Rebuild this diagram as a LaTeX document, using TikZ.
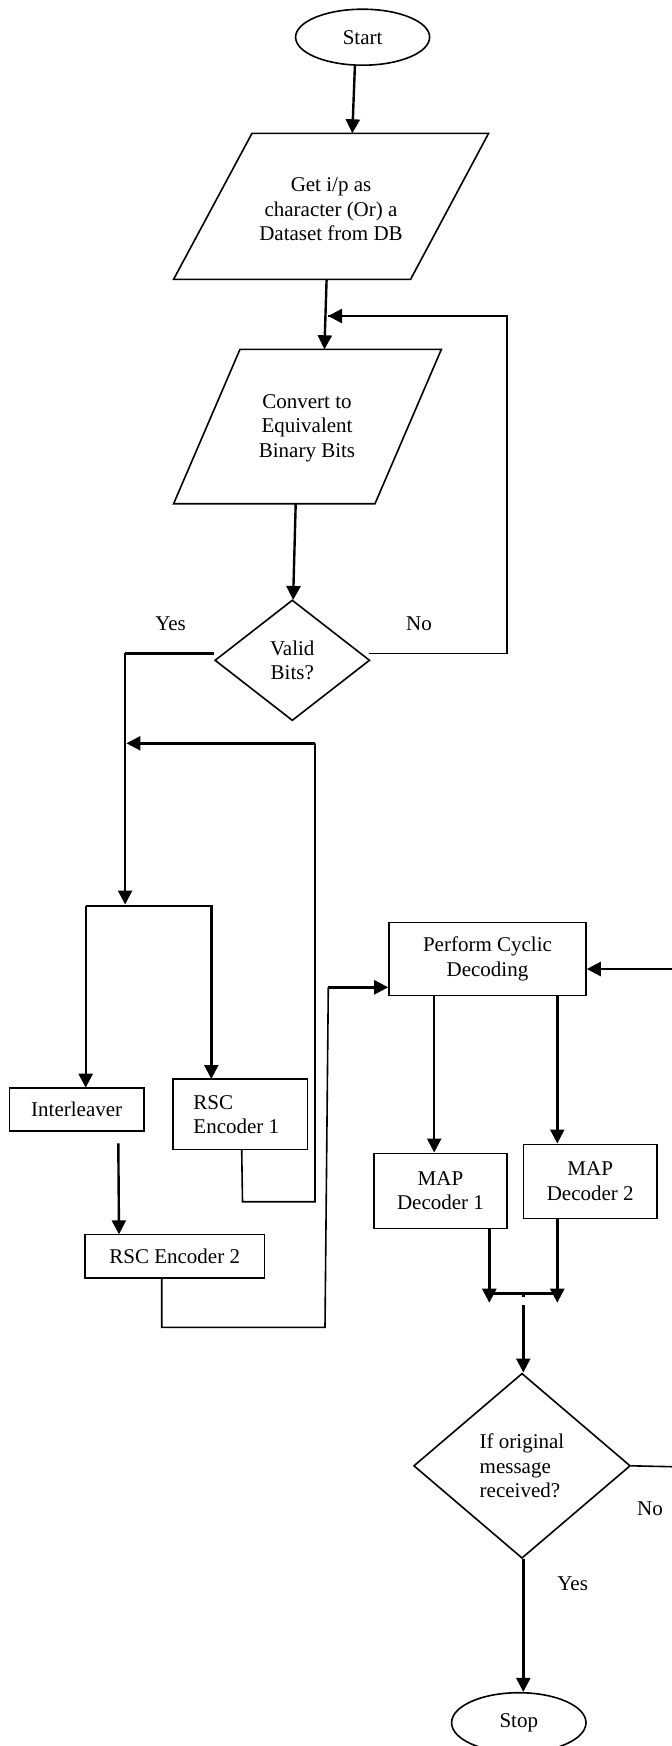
\documentclass[tikz,border=0pt]{standalone}
\usepackage{fontspec}
\setmainfont{Liberation Serif}
\usetikzlibrary{arrows.meta,shapes.geometric}
\begin{document}
\begin{tikzpicture}[x=1pt,y=-1pt,
  every node/.style={font=\fontsize{21}{24.5}\selectfont, inner sep=0pt, align=center},
  term/.style={ellipse, draw, line width=1.6pt},
  box/.style={rectangle, draw, line width=1.6pt},
  dec/.style={diamond, draw, line width=1.6pt},
  outline/.style={line width=1.6pt, line join=miter},
  arr/.style={line width=2.4pt, -{Triangle[length=14pt,width=14pt]}},
  thinln/.style={line width=1.6pt},
  thickln/.style={line width=2.4pt},
  lbl/.style={font=\fontsize{21}{24.5}\selectfont}]
\useasboundingbox (0,0) rectangle (672,1746);

% ---------- Start ----------
\node[term, minimum width=134pt, minimum height=56pt] (start) at (362.6,37.2) {Start};

% ---------- Parallelogram 1 ----------
\coordinate (p1tl) at (252,133.3);
\coordinate (p1tr) at (488.6,133.3);
\coordinate (p1br) at (410.6,279.3);
\coordinate (p1bl) at (173.6,279.3);
\draw[outline] (p1tl) -- (p1tr) -- (p1br) -- (p1bl) -- cycle;
\node (par1) at (331,209.5) {Get i/p as\\character (Or) a\\Dataset from DB};
\coordinate (p1in) at (352.3,133.3);
\coordinate (p1out) at (326.6,279.3);

% ---------- Parallelogram 2 ----------
\coordinate (p2tl) at (240,349.3);
\coordinate (p2tr) at (441.4,349.3);
\coordinate (p2br) at (375,503.7);
\coordinate (p2bl) at (173.6,503.7);
\draw[outline] (p2tl) -- (p2tr) -- (p2br) -- (p2bl) -- cycle;
\node (par2) at (307,428) {Convert to\\Equivalent\\Binary Bits};
\coordinate (p2in) at (324.4,349.3);
\coordinate (p2out) at (295.7,503.7);

% ---------- Decision 1 ----------
\node[dec, minimum width=155pt, minimum height=120.7pt] (dia1) at (292.3,660.3) {Valid\\Bits?};
\coordinate (d1in) at (293.1,600);
\node[lbl] (yes1) at (170.6,623.3) {Yes};
\node[lbl] (no1) at (419,623.3) {No};

% ---------- Encoders ----------
\node[box, minimum width=134.6pt, minimum height=43pt] (inter) at (76.7,1109.2) {Interleaver};
\node[box, minimum width=134.5pt, minimum height=70.3pt] (enc1) at (240.3,1114.2) {};
\node[align=left] (enc1t) at (236.3,1114.8) {RSC\\Encoder 1};
\node[box, minimum width=179.3pt, minimum height=43.4pt] (enc2) at (174.7,1256) {RSC Encoder 2};

% ---------- Decoding ----------
\node[box, minimum width=197pt, minimum height=73.2pt] (pcd) at (487.5,958.9) {Perform Cyclic\\Decoding};
\node[box, minimum width=133pt, minimum height=75pt] (map1) at (440.5,1190.8) {MAP\\Decoder 1};
\node[box, minimum width=133.7pt, minimum height=74.2pt] (map2) at (590.2,1181.4) {MAP\\Decoder 2};

% ---------- Decision 2 ----------
\node[dec, minimum width=216.7pt, minimum height=185pt, align=left] (dia2) at (522,1465.8) {If original\\message\\received?};
\node[lbl] (no2) at (650,1508.3) {No};
\node[lbl] (yes2) at (572.7,1583.3) {Yes};

% ---------- Stop ----------
\node[term, minimum width=134.4pt, minimum height=60pt] (stop) at (518.8,1722.7) {Stop};

% ---------- Connectors ----------
\draw[arr] ([xshift=-7.7pt]start.south) -- (p1in);
\draw[arr] (p1out) -- (p2in);

% No loop back
\coordinate (d1r) at (369.4,653.3);
\coordinate (fbc1) at (507,653.3);
\coordinate (fbc2) at (507,316);
\coordinate (fbtip) at (328,316);
\draw[thinln] (d1r) -- (fbc1) -- (fbc2) -- (fbtip);
\draw[arr] (fbc2) -- (fbtip);

\draw[arr] (p2out) -- (d1in);

% Yes branch
\coordinate (d1l) at (214.3,653.3);
\coordinate (yc1) at (125.1,653.3);
\coordinate (ytip) at (125.1,904.5);
\draw[thickln] (d1l) -- (yc1);
\draw[arr] (yc1) -- (ytip);

% split
\coordinate (brl) at (85.7,905.7);
\coordinate (brr) at (211.3,905.7);
\draw[thinln] (brl) -- ([xshift=1.7pt]brr);
\draw[arr] (brl) -- (85.7,1087.7) coordinate (intin);
\draw[arr] (brr) -- (211.3,1079) coordinate (enc1in);

% encoder 1 loop back
\coordinate (e1out) at (241.7,1149.3);
\coordinate (lp1) at (242.5,1201.7);
\coordinate (lp2) at (315,1201.7);
\coordinate (lp3) at (315,743.3);
\coordinate (lptip) at (126.4,743.3);
\draw[thinln] (e1out) -- (lp1) -- (lp2) -- (lp3);
\draw[arr] (lp3) -- (lptip);

% interleaver -> enc2
\coordinate (intout) at (118.3,1143.3);
\draw[arr] (intout) -- (119,1234.3) coordinate (enc2in);

% enc2 -> pcd
\coordinate (e2out) at (161.7,1277.7);
\coordinate (e2c1) at (161.7,1327.3);
\coordinate (e2c2) at (325,1327.3);
\coordinate (e2c3) at (328.3,987.3);
\draw[thinln] (e2out) -- (e2c1) -- (e2c2) -- (e2c3);
\draw[arr] (e2c3) -- (pcd.west |- e2c3);

% from right into pcd
\coordinate (rin) at (672,969);
\draw[arr] (rin) -- (pcd.east |- rin);

% pcd -> maps
\draw[arr] (pcd.south -| 434.2,0) -- (map1.north -| 434.2,0);
\draw[arr] (pcd.south -| 557.3,0) -- (map2.north -| 557.3,0);

% maps -> join
\coordinate (j1) at (489.3,1302.7);
\coordinate (j2) at (557.3,1302.7);
\draw[arr] (map1.south -| j1) -- (j1);
\draw[arr] (map2.south -| j2) -- (j2);
\coordinate (jl) at (489.3,1293.3);
\coordinate (jr) at (557.3,1293.3);
\draw[thickln] (jl) -- (jr);
\coordinate (jm) at (523.3,1293.3);
\draw[thickln] (jm) -- (523.3,1297);
\draw[arr] (523.3,1305) -- (dia2.north -| jm);

% dia2 outputs
\coordinate (redge) at (672,1466.7);
\draw[thinln] (dia2.east) -- (redge);
\draw[arr] (dia2.south -| jm) -- (stop.north -| jm);
\end{tikzpicture}
\end{document}
